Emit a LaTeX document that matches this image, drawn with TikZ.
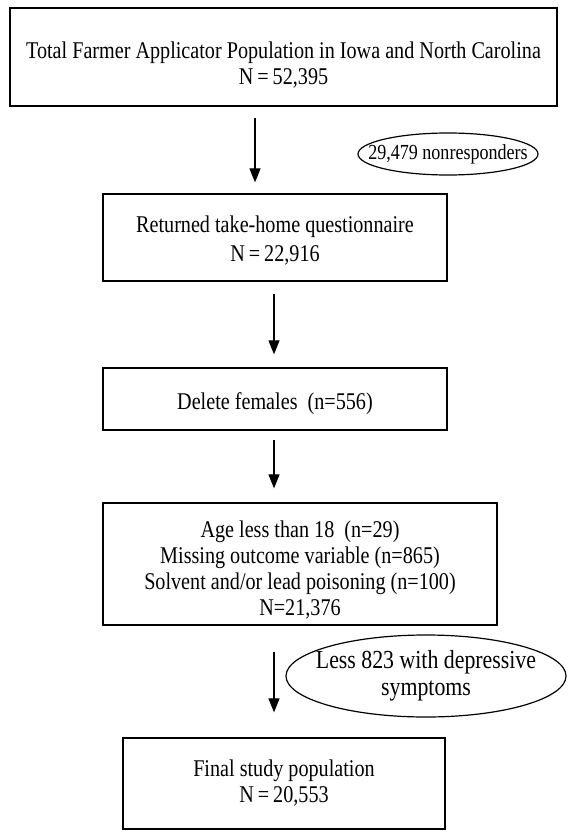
\documentclass[tikz,border=0pt]{standalone}
\usepackage{fontspec}
\setmainfont{Liberation Serif}[FakeStretch=0.84]
\usetikzlibrary{arrows.meta}

\newcommand{\dropby}[1]{\rule{0pt}{#1}}

\begin{document}
\begin{tikzpicture}[x=1pt,y=-1pt,
    box/.style={draw,line width=1.3pt,inner sep=0pt,align=center,font=\fontsize{24}{26}\selectfont},
    ovaltext/.style={inner sep=0pt,align=center},
    flow/.style={line width=1.2pt,-{Triangle[length=14pt,width=11pt]}}]
        \useasboundingbox (0,0) rectangle (568,832);
        \node[box,minimum width=547pt,minimum height=98pt] (total) at (283.5,57) {\dropby{33pt}Total Farmer Applicator Population in Iowa and North Carolina\\N\,=\,52,395};
        \node[box,minimum width=344pt,minimum height=87pt] (returned) at (275,237.5) {\dropby{23pt}Returned take-home questionnaire\\[3pt]N\,=\,22,916};
        \node[box,minimum width=344pt,minimum height=62pt] (females) at (275,399) {\dropby{26pt}Delete females\ \ (n=556)};
        \node[box,minimum width=394pt,minimum height=122pt] (exclusions) at (300,564) {\dropby{28pt}Age less than 18\ \ (n=29)\\Missing outcome variable (n=865)\\Solvent and/or lead poisoning (n=100)\\N=21,376};
        \node[box,minimum width=322pt,minimum height=91pt] (final) at (284,783.5) {Final study population\\N\,=\,20,553};

        % exclusion ovals
        \node[ovaltext,font=\fontsize{21.5}{26}\selectfont] (nonresp) at (448,154) {29,479 nonresponders};
        \draw[line width=1.2pt] (nonresp) ellipse [x radius=90,y radius=21];
        \node[ovaltext,font=\fontsize{26}{27}\selectfont] (depress) at (426,676) {Less 823 with depressive\\symptoms};
        \draw[line width=1.2pt] (depress) ellipse [x radius=140,y radius=41];

        \draw[flow,shorten <=11pt,shorten >=11pt] ([xshift=-20pt]returned.north |- total.south) -- ([xshift=-20pt]returned.north);
        \draw[flow,shorten <=12pt,shorten >=13pt] ([xshift=-1pt]returned.south) -- ([xshift=-1pt]females.north);
        \draw[flow,shorten <=9pt,shorten >=14pt] ([xshift=-1pt]females.south) -- ([xshift=-1pt]females.south |- exclusions.north);
        \draw[flow,shorten <=26pt,shorten >=25pt] ([xshift=-1pt]females.south |- exclusions.south) -- ([xshift=-1pt]females.south |- final.north);
    \end{tikzpicture}
\end{document}
